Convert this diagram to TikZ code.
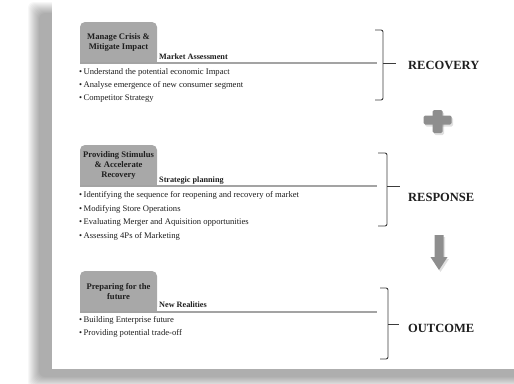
\documentclass[tikz,border=0pt]{standalone}
\usepackage{fontspec}
\setmainfont{Liberation Serif}
\definecolor{boxgray}{HTML}{A8A8A8}
\definecolor{linegray}{HTML}{A3A3A3}
\definecolor{bracecol}{HTML}{3C3C3C}
\definecolor{symgray}{HTML}{8E8E8E}
\definecolor{txt}{HTML}{1E1E1E}
\begin{document}
\begin{tikzpicture}[x=1pt,y=-1pt,
  headbox/.style={fill=boxgray, rounded corners=5pt, minimum width=77pt, minimum height=41pt,
    inner sep=0pt, align=center, text=txt, font=\fontsize{8.6}{10.3}\selectfont\bfseries},
  headpatch/.style={fill=boxgray},
  topic/.style={anchor=base west, inner sep=0pt, text=txt, font=\fontsize{8.2}{9}\selectfont\bfseries},
  bullet/.style={anchor=base west, inner sep=0pt, text=txt, font=\fontsize{8.6}{9}\selectfont},
  rule/.style={draw=linegray, line width=1.2pt},
  bracket/.style={draw=bracecol, line width=0.9pt, rounded corners=2pt},
  phase/.style={anchor=base west, inner sep=0pt, text=txt, font=\fontsize{12.5}{14}\selectfont\bfseries},
  symbol/.style={fill=symgray},
  symshadow/.style={fill=black, opacity=0.12}]
\useasboundingbox (0,0) rectangle (514,383);
% page shadow
\foreach \k in {0,...,11}{
  \pgfmathsetmacro{\r}{12-\k}
  \fill[black, opacity=0.03, rounded corners=6pt] (40-\r,14-\r) rectangle (530,376+\r);
}
% page
\fill[white] (52,0) rectangle (514,369);

% ---------- block 1 ----------
\fill[headpatch] (80,45) rectangle (157,63);
\node[headbox] (h1) at (118.5,42.5) {Manage Crisis \&\\Mitigate Impact};
\coordinate (l1s) at (80,63);
\coordinate (l1e) at (377,63);
\draw[rule] (l1s) -- (l1e);
\node[topic] (t1) at (159,59) {Market Assessment};
\node[bullet] (b11) at (79,74.5) {\textbullet\,Understand the potential economic Impact};
\node[bullet] (b12) at (79,87.5) {\textbullet\,Analyse emergence of new consumer segment};
\node[bullet] (b13) at (79,100.5) {\textbullet\,Competitor Strategy};
\draw[bracket] (375,30) -- (383,30) -- (383,100) -- (375,100);
\coordinate (k1) at (383,63);
\coordinate (k1e) at (396,63);
\draw[bracket] (k1) -- (k1e);
\node[phase] (p1) at (408,69.5) {RECOVERY};

% plus sign
\begin{scope}[shift={(1.5,2)}]
  \fill[symshadow, rounded corners=1.5pt] (432.5,110) rectangle (442.5,133);
  \fill[symshadow, rounded corners=1.5pt] (423.5,115.5) rectangle (451.5,124.5);
\end{scope}
\fill[symbol, rounded corners=1.5pt] (432.5,110) rectangle (442.5,133);
\fill[symbol, rounded corners=1.5pt] (423.5,115.5) rectangle (451.5,124.5);

% ---------- block 2 ----------
\fill[headpatch] (80,168) rectangle (157,186);
\node[headbox] (h2) at (118.5,165.5) {Providing Stimulus\\\&  Accelerate\\Recovery};
\coordinate (l2s) at (80,186);
\coordinate (l2e) at (377,186);
\draw[rule] (l2s) -- (l2e);
\node[topic] (t2) at (159,182.5) {Strategic planning};
\node[bullet] (b21) at (79,197.5) {\textbullet\,Identifying the sequence for reopening and recovery of market};
\node[bullet] (b22) at (79,211) {\textbullet\,Modifying Store Operations};
\node[bullet] (b23) at (79,224.5) {\textbullet\,Evaluating Merger and Aquisition opportunities};
\node[bullet] (b24) at (79,238) {\textbullet\,Assessing 4Ps of Marketing};
\draw[bracket] (378,153) -- (387,153) -- (387,226) -- (378,226);
\coordinate (k2) at (387,186);
\coordinate (k2e) at (400,186);
\draw[bracket] (k2) -- (k2e);
\node[phase] (p2) at (408,201.5) {RESPONSE};

% down arrow
\begin{scope}[shift={(1.5,2)}]
  \fill[symshadow] (434.5,235) -- (443.5,235) -- (443.5,257) -- (447.5,257) -- (439,270) -- (430.5,257) -- (434.5,257) -- cycle;
\end{scope}
\fill[symbol] (434.5,235) -- (443.5,235) -- (443.5,257) -- (447.5,257) -- (439,270) -- (430.5,257) -- (434.5,257) -- cycle;

% ---------- block 3 ----------
\fill[headpatch] (80,294) rectangle (157,312);
\node[headbox] (h3) at (118.5,291.5) {Preparing for the\\future};
\coordinate (l3s) at (80,312);
\coordinate (l3e) at (377,312);
\draw[rule] (l3s) -- (l3e);
\node[topic] (t3) at (159,307.5) {New Realities};
\node[bullet] (b31) at (79,322.5) {\textbullet\,Building Enterprise future};
\node[bullet] (b32) at (79,335.5) {\textbullet\,Providing potential trade-off};
\draw[bracket] (380,288) -- (388,288) -- (388,359) -- (380,359);
\coordinate (k3) at (388,324);
\coordinate (k3e) at (399,324);
\draw[bracket] (k3) -- (k3e);
\node[phase] (p3) at (408,332.5) {OUTCOME};
\end{tikzpicture}
\end{document}
